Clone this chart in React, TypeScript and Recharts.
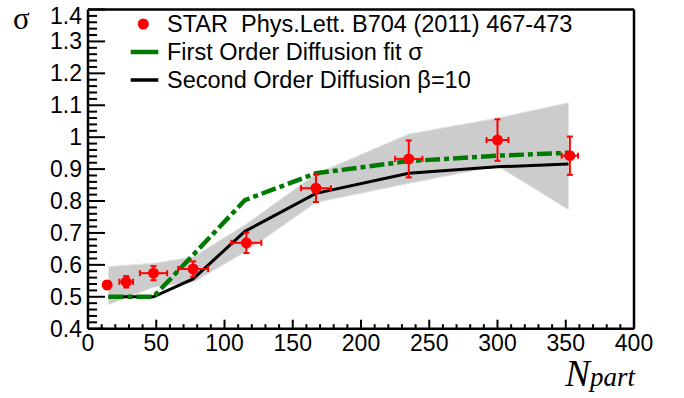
import React from "react";
import {
  ComposedChart,
  Area,
  Line,
  Scatter,
  ErrorBar,
  XAxis,
  YAxis,
  ReferenceLine,
  Legend,
  Label,
} from "recharts";

// ---- model curves (common nodes) ----
const nodeX = [15, 48, 77, 115, 167, 235, 300, 352];
const bandLow = [0.475, 0.53, 0.545, 0.64, 0.795, 0.855, 0.91, 0.773];
const bandHigh = [0.595, 0.605, 0.625, 0.725, 0.885, 1.01, 1.06, 1.108];
const secondOrder = [0.5, 0.5, 0.556, 0.705, 0.824, 0.887, 0.907, 0.916];
const firstOrder = [0.5, 0.5, 0.631, 0.803, 0.887, 0.925, 0.942, 0.951];

// ---- STAR data ----
const starX = [14, 28, 48, 77, 116, 167, 235, 300, 353];
const starY = [0.537, 0.547, 0.574, 0.587, 0.669, 0.84, 0.932, 0.991, 0.942];
const starEx = [0, 5, 10, 11, 11, 11, 10, 8, 6];
const starEy = [0.012, 0.018, 0.022, 0.024, 0.032, 0.043, 0.058, 0.065, 0.06];

// ---- ticks ----
const xMajorTicks = [0, 50, 100, 150, 200, 250, 300, 350, 400];
const yMajorTicks = [0.4, 0.5, 0.6, 0.7, 0.8, 0.9, 1.0, 1.1, 1.2, 1.3, 1.4];

const xTicks: number[] = [];
for (let i = 0; i <= 40; i++) xTicks.push(i * 10);
const yTicks: number[] = [];
for (let i = 0; i <= 50; i++) yTicks.push(Math.round((0.4 + i * 0.02) * 100) / 100);

const curveData = nodeX.map((x, i) => ({
  x,
  band: [bandLow[i], bandHigh[i]],
  second: secondOrder[i],
  first: firstOrder[i],
}));

const starData = starX.map((x, i) => ({
  x,
  y: starY[i],
  ex: starEx[i],
  ey: starEy[i],
}));

const FONT = '"Liberation Sans", Arial, sans-serif';
const SERIF = '"Liberation Serif", "Times New Roman", serif';
const GREEN = "#007a00";
const RED = "#ff0000";

const isMajorX = (v: number) => xMajorTicks.includes(v);
const isMajorY = (v: number) =>
  yMajorTicks.some((t) => Math.abs(t - v) < 1e-6);

const XTick = (props: any) => {
  const { x, y, payload } = props;
  const v = payload.value;
  const major = isMajorX(v);
  return (
    <g>
      <line x1={x} y1={y} x2={x} y2={y - (major ? 9 : 4.5)} stroke="#000" strokeWidth={2} />
      {major && (
        <text x={x} y={y + 22.5} textAnchor="middle" fontFamily={FONT} fontSize={23} fill="#000">
          {v}
        </text>
      )}
    </g>
  );
};

const YTick = (props: any) => {
  const { x, y, payload } = props;
  const v = payload.value;
  const major = isMajorY(v);
  const label = String(Number(v.toFixed(1)));
  const shift = Math.abs(v - 1.4) < 1e-6 ? 6 : 0;
  return (
    <g>
      <line x1={x} y1={y} x2={x + (major ? 17 : 9)} y2={y} stroke="#000" strokeWidth={2} />
      {major && (
        <text x={x - 6} y={y + 8 + shift} textAnchor="end" fontFamily={FONT} fontSize={23} fill="#000">
          {label}
        </text>
      )}
    </g>
  );
};

const StarDot = (props: any) => {
  const { cx, cy } = props;
  return <circle cx={cx} cy={cy} r={5.5} fill={RED} />;
};

const renderLegend = () => (
  <svg width={684} height={100} style={{ display: "block" }}>
    <circle cx={143.3} cy={24} r={5.5} fill={RED} />
    <text x={167} y={32} fontFamily={FONT} fontSize={23.5} fill="#000" style={{ whiteSpace: "pre" }}>
      {"STAR  Phys.Lett. B704 (2011) 467-473"}
    </text>
    <line x1={130.7} x2={158.3} y1={52} y2={52} stroke={GREEN} strokeWidth={4.5} />
    <text x={167} y={60} fontFamily={FONT} fontSize={23.5} fill="#000">
      First Order Diffusion fit σ
    </text>
    <line x1={130.7} x2={158.3} y1={80} y2={80} stroke="#000" strokeWidth={3.5} />
    <text x={167} y={88} fontFamily={FONT} fontSize={23.5} fill="#000">
      Second Order Diffusion β=10
    </text>
  </svg>
);

const XTitle = (props: any) => {
  const vb = props.viewBox || {};
  const right = (vb.x || 0) + (vb.width || 0);
  return (
    <text x={right + 1} y={386} textAnchor="end" fontFamily={SERIF} fontStyle="italic" fill="#000">
      <tspan fontSize={37}>N</tspan>
      <tspan fontSize={27}>part</tspan>
    </text>
  );
};

const YTitle = () => (
  <text x={13} y={29} fontFamily={SERIF} fontSize={31} fill="#000">
    σ
  </text>
);

export default function App() {
  return (
    <div style={{ position: "absolute", left: 0, top: 0, width: 684, height: 398, background: "#fff" }}>
      <ComposedChart
        width={684}
        height={398}
        data={curveData}
        margin={{ top: 9.5, right: 50, bottom: 0, left: 0 }}
      >
        <XAxis
          dataKey="x"
          type="number"
          domain={[0, 400]}
          ticks={xTicks}
          interval={0}
          tickSize={0}
          tickMargin={0}
          tickLine={false}
          tick={<XTick />}
          axisLine={{ stroke: "#000", strokeWidth: 2.5 }}
          height={69.3}
          allowDataOverflow
        >
          <Label content={<XTitle />} />
        </XAxis>
        <YAxis
          type="number"
          domain={[0.4, 1.4]}
          ticks={yTicks}
          interval={0}
          tickSize={0}
          tickMargin={0}
          tickLine={false}
          tick={<YTick />}
          axisLine={{ stroke: "#000", strokeWidth: 2.5 }}
          width={88}
          allowDataOverflow
        >
          <Label content={<YTitle />} />
        </YAxis>
        <Area
          type="linear"
          dataKey="band"
          fill="#cccccc"
          fillOpacity={1}
          stroke="#e4e4e4"
          strokeWidth={1}
          isAnimationActive={false}
          dot={false}
          activeDot={false}
        />
        <Line
          type="linear"
          dataKey="second"
          stroke="#000"
          strokeWidth={3}
          dot={false}
          activeDot={false}
          isAnimationActive={false}
        />
        <Line
          type="linear"
          dataKey="first"
          stroke={GREEN}
          strokeWidth={4.5}
          strokeDasharray="15 4 5 4"
          dot={false}
          activeDot={false}
          isAnimationActive={false}
        />
        <Scatter data={starData} dataKey="y" shape={<StarDot />} isAnimationActive={false}>
          <ErrorBar dataKey="ex" direction="x" width={3} stroke={RED} strokeWidth={2} />
          <ErrorBar dataKey="ey" direction="y" width={3} stroke={RED} strokeWidth={2} />
        </Scatter>
        <ReferenceLine y={1.4} stroke="#000" strokeWidth={2.5} />
        <ReferenceLine x={400} stroke="#000" strokeWidth={2.5} />
        <Legend
          content={renderLegend}
          layout="vertical"
          align="center"
          verticalAlign="middle"
          wrapperStyle={{ left: 0, top: 0, width: 684, height: 100 }}
        />
      </ComposedChart>
    </div>
  );
}
